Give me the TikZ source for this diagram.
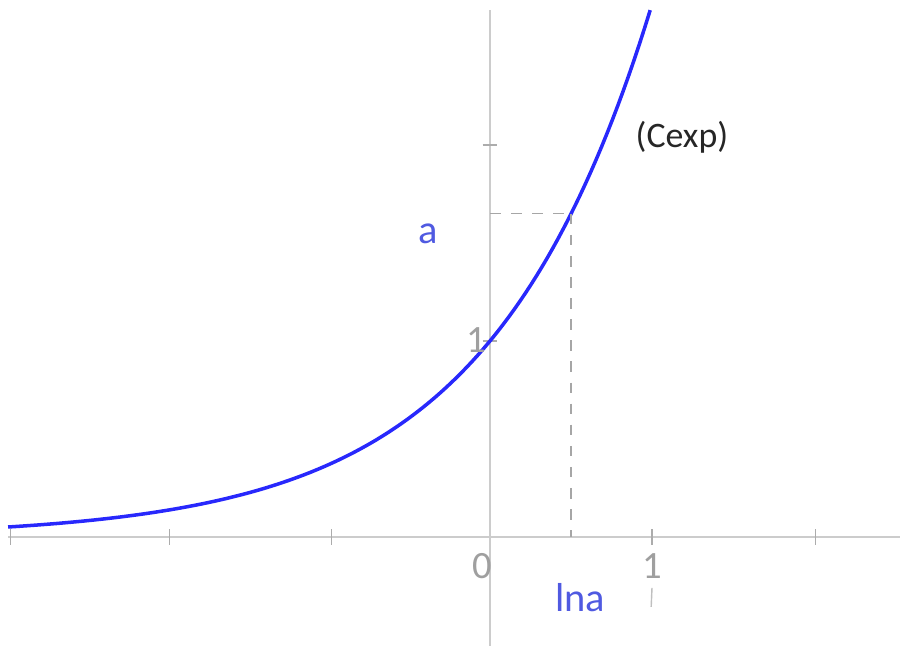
\documentclass[tikz,border=0pt]{standalone}
\usepackage{fontspec}
\setmainfont{Carlito}
\definecolor{curveblue}{RGB}{40,40,252}
\definecolor{labelblue}{RGB}{80,90,225}

\begin{document}
\begin{tikzpicture}[x=1.62cm, y=1.96cm, axis/.style={draw=gray!40, line width=0.6pt}, tick/.style={draw=gray!65, line width=0.4pt}, guide/.style={draw=gray!70, dashed, line width=0.35pt}, num/.style={gray!75, font=\fontsize{11}{13}\selectfont}, lbl/.style={font=\fontsize{11.5}{13}\selectfont}]
    \useasboundingbox (-3.025,-0.556) rectangle (2.531,2.740);

    \coordinate (xl) at (-2.975,0);
    \coordinate (xr) at (2.531,0);
    \coordinate (yb) at (0,-0.556);
    \coordinate (yt) at (0,2.689);
    \draw[axis] (xl) -- (xr);
    \draw[axis] (yb) -- (yt);

    \foreach \t in {-2.96,-1.98,-0.98,1,2.01}
        \draw[tick] (\t,-0.04) -- (\t,0.04);
    \foreach \t in {1,2}
        \draw[tick] (-0.045,\t) -- (0.045,\t);

    \draw[curveblue, line width=1pt] plot[domain=-2.975:0.989, samples=120] (\x,{exp(\x)});

    \coordinate (p) at (0.5,{exp(0.5)});
    \coordinate (px) at (0.5,0);
    \coordinate (py) at (0,{exp(0.5)});
    \draw[guide] (py) -- (p);
    \draw[guide] (p) -- (px);

    \node at (1.185,2.041) [black!85, font=\fontsize{10.2}{12}\selectfont] (cexp) {(Cexp)};
    \node at (-0.383,1.546) [lbl, labelblue] (a) {a};
    \node at (0.556,-0.311) [lbl, labelblue] (lna) {lna};
    \node at (-0.049,-0.148) [num] (o) {0};
    \node at (1.0,-0.148) [num] (one_x) {1};
    \node at (-0.086,1.005) [num] (one_y) {1};
    \draw[gray!50, line width=0.4pt] (1.0,-0.26) -- (0.995,-0.357);
\end{tikzpicture}
\end{document}
